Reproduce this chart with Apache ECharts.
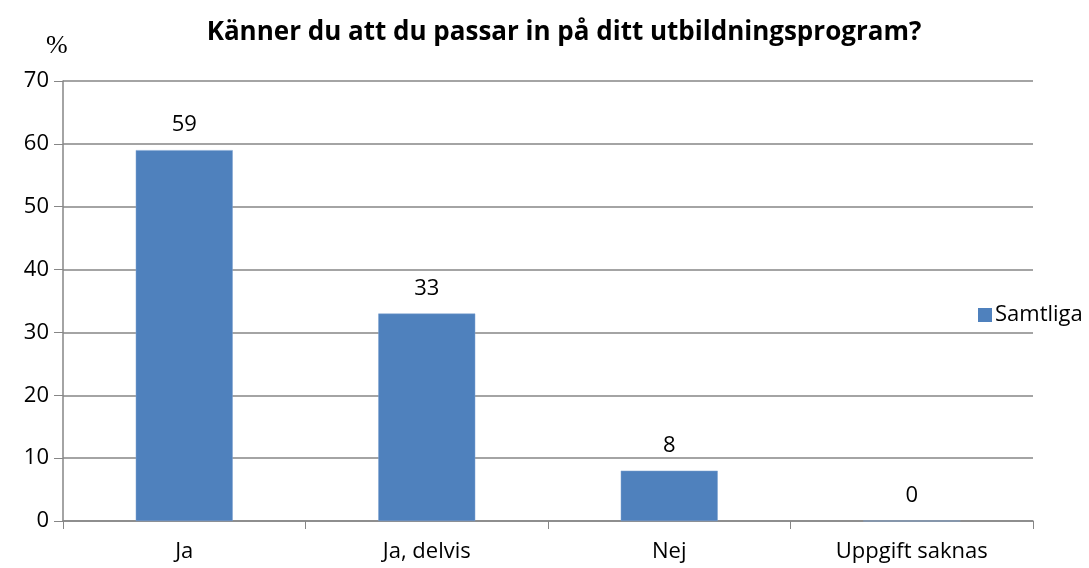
<!DOCTYPE html>
<html>
<head>
<meta charset="utf-8">
<script src="https://cdn.jsdelivr.net/npm/echarts@6/dist/echarts.min.js"></script>
<style>
  html, body { margin: 0; padding: 0; background: #fff; }
  #chart { width: 1089px; height: 568px; }
</style>
</head>
<body>
<div id="chart"></div>
<script>
// data
const categories = ['Ja', 'Ja, delvis', 'Nej', 'Uppgift saknas'];
const samtliga = [59, 33, 8, 0];
const yTicks = [0, 10, 20, 30, 40, 50, 60, 70];

const font = '"Open Sans", "Noto Sans", sans-serif';
let chart = echarts.init(document.getElementById('chart'));
let option = {
  animation: false,
  title: [{
    text: 'Känner du att du passar in på ditt utbildningsprogram?',
    left: 559,
    top: 15,
    textAlign: 'center',
    textStyle: { fontFamily: font, fontSize: 26, fontWeight: 'bold', color: '#000' }
  }, {
    // unit label above the y axis
    text: '%',
    left: 41,
    top: 28,
    textStyle: { fontFamily: '"Liberation Serif", serif', fontSize: 26, fontWeight: 'normal', color: '#000' }
  }],
  legend: {
    data: ['Samtliga'],
    icon: 'rect',
    left: 973,
    top: 299,
    itemWidth: 14,
    itemHeight: 14,
    itemGap: 6,
    itemStyle: { borderWidth: 0 },
    textStyle: { fontFamily: font, fontSize: 22, color: '#000', padding: [0, 0, 0, -2] }
  },
  grid: { left: 63, right: 56, top: 81, bottom: 47 },
  xAxis: {
    type: 'category',
    data: categories,
    axisLine: { lineStyle: { color: '#868686', width: 1.5 } },
    axisTick: { show: true, alignWithLabel: false, length: 8, lineStyle: { color: '#868686' } },
    axisLabel: { fontFamily: font, fontSize: 22, color: '#000', margin: 20 }
  },
  yAxis: {
    type: 'value',
    min: yTicks[0],
    max: yTicks[yTicks.length - 1],
    interval: 10,
    axisLine: { show: true, lineStyle: { color: '#868686', width: 1.5 } },
    axisTick: { show: true, inside: false, length: 9, lineStyle: { color: '#868686' } },
    axisLabel: { fontFamily: font, fontSize: 22, color: '#000', margin: 14 },
    splitLine: { lineStyle: { color: '#868686', width: 1.5 } }
  },
  series: [{
    name: 'Samtliga',
    type: 'bar',
    data: samtliga,
    barWidth: '40%',
    itemStyle: { color: '#4F81BD', borderColor: '#7fa3d0', borderWidth: 0.5 },
    label: {
      show: true,
      position: 'top',
      distance: 14,
      fontFamily: font,
      fontSize: 22,
      color: '#000'
    }
  }]
};
chart.setOption(option);
</script>
</body>
</html>
